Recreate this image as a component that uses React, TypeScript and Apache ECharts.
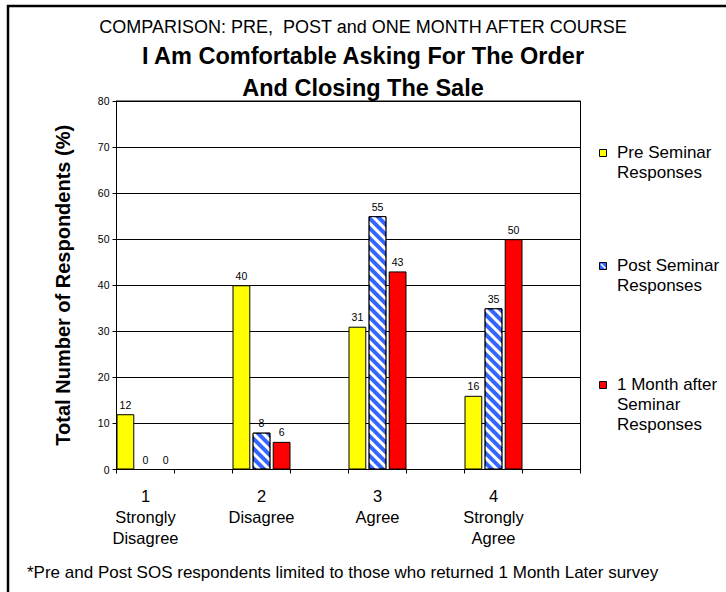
import React, { useEffect, useRef } from "react";
import * as echarts from "echarts";

const categories = [
  "1\nStrongly\nDisagree",
  "",
  "2\nDisagree",
  "",
  "3\nAgree",
  "",
  "4\nStrongly\nAgree",
  "",
];
const seriesNames = ["Pre Seminar Responses", "Post Seminar Responses", "1 Month after Seminar Responses"];
const legendLabels = ["Pre Seminar\nResponses", "Post Seminar\nResponses", "1 Month after\nSeminar\nResponses"];
const preValues = [12, null, 40, null, 31, null, 16, null];
const postValues = [0, null, 8, null, 55, null, 35, null];
const monthValues = [0, null, 6, null, 43, null, 50, null];
const yTicks = { min: 0, max: 80, interval: 10 };
const titleLine1 = "COMPARISON: PRE,  POST and ONE MONTH AFTER COURSE";
const titleLine2 = "I Am Comfortable Asking For The Order";
const titleLine3 = "And Closing The Sale";
const yAxisTitle = "Total Number of Respondents (%)";
const footnote = "*Pre and Post SOS respondents limited to those who returned 1 Month Later survey";

const FONT = "'Liberation Sans', Arial, Helvetica, sans-serif";
const colors = ["#FFFF00", "#3366FF", "#FF0000"];

export default function App() {
  const ref = useRef<HTMLDivElement>(null);
  useEffect(() => {
    document.body.style.margin = "0";
    if (!ref.current) return;
    const chart = echarts.init(ref.current, undefined, { renderer: "svg" });
    const stripeDecal = {
      symbol: "rect",
      symbolSize: 1,
      dashArrayX: [1, 0],
      dashArrayY: [2.5, 4],
      rotation: Math.PI / 4,
      color: "#ffffff",
    };
    const values = [preValues, postValues, monthValues];
    const legendTops = [142, 255, 374];
    const legendGraphics: any[] = [];
    legendLabels.forEach((lab, i) => {
      const y = legendTops[i];
      legendGraphics.push({
        type: "rect",
        shape: { x: 599.5, y: y + 7.5, width: 7, height: 7 },
        style: { fill: colors[i], stroke: "#000", lineWidth: 1 },
      });
      if (i === 1) {
        legendGraphics.push({
          type: "line",
          shape: { x1: 601, y1: y + 9, x2: 605.5, y2: y + 13.5 },
          style: { stroke: "#fff", lineWidth: 1.6 },
        });
      }
      legendGraphics.push({
        type: "text",
        style: {
          text: lab,
          x: 617,
          y: y,
          fill: "#000",
          fontFamily: FONT,
          fontSize: 17,
          lineHeight: 20,
          align: "left",
          verticalAlign: "top",
        },
      });
    });
    chart.setOption({
      animation: false,
      backgroundColor: "#fff",
      grid: {
        left: 116.5,
        right: 145.5,
        top: 101,
        bottom: 122.5,
        show: true,
        borderColor: "#000",
        borderWidth: 1,
      },
      xAxis: {
        type: "category",
        data: categories,
        boundaryGap: true,
        axisLine: { lineStyle: { color: "#000", width: 1 } },
        axisTick: { show: true, interval: 0, length: 4, lineStyle: { color: "#000" } },
        axisLabel: {
          interval: 0,
          color: "#000",
          fontFamily: FONT,
          fontSize: 16.5,
          lineHeight: 21,
          margin: 16,
        },
      },
      yAxis: {
        type: "value",
        min: yTicks.min,
        max: yTicks.max,
        interval: yTicks.interval,
        name: yAxisTitle,
        nameLocation: "middle",
        nameRotate: 90,
        nameGap: 44,
        nameTextStyle: { color: "#000", fontFamily: FONT, fontSize: 20, fontWeight: "bold" },
        axisLine: { show: true, lineStyle: { color: "#000", width: 1 } },
        axisTick: { show: true, length: 4, lineStyle: { color: "#000" } },
        axisLabel: { color: "#000", fontFamily: FONT, fontSize: 10.5, margin: 7 },
        splitLine: { show: true, lineStyle: { color: "#000", width: 1 } },
      },
      series: seriesNames.map((name, i) => ({
        name,
        type: "bar",
        data: values[i],
        barGap: "13%",
        barCategoryGap: "0%",
        itemStyle: {
          color: colors[i],
          borderColor: "#000",
          borderWidth: 1,
          ...(i === 1 ? { decal: stripeDecal } : {}),
        },
        label: {
          show: true,
          position: "top",
          distance: 4,
          color: "#000",
          fontFamily: FONT,
          fontSize: 10.5,
        },
      })),
      graphic: [
        {
          type: "rect",
          shape: { x: 8, y: 6, width: 760, height: 640 },
          style: { fill: "none", stroke: "#000", lineWidth: 2.5 },
          silent: true,
        },
        {
          type: "text",
          style: {
            text: titleLine1,
            x: 363,
            y: 27,
            align: "center",
            verticalAlign: "middle",
            fill: "#000",
            fontFamily: FONT,
            fontSize: 18,
          },
        },
        {
          type: "text",
          style: {
            text: titleLine2,
            x: 363,
            y: 56,
            align: "center",
            verticalAlign: "middle",
            fill: "#000",
            fontFamily: FONT,
            fontSize: 23.5,
            fontWeight: "bold",
          },
        },
        {
          type: "text",
          style: {
            text: titleLine3,
            x: 363,
            y: 87.5,
            align: "center",
            verticalAlign: "middle",
            fill: "#000",
            fontFamily: FONT,
            fontSize: 23.5,
            fontWeight: "bold",
          },
        },
        {
          type: "text",
          style: {
            text: footnote,
            x: 27,
            y: 572,
            align: "left",
            verticalAlign: "middle",
            fill: "#000",
            fontFamily: FONT,
            fontSize: 17,
          },
        },
        ...legendGraphics,
      ],
    });
    return () => chart.dispose();
  }, []);
  return <div ref={ref} style={{ width: 726, height: 592 }} />;
}
